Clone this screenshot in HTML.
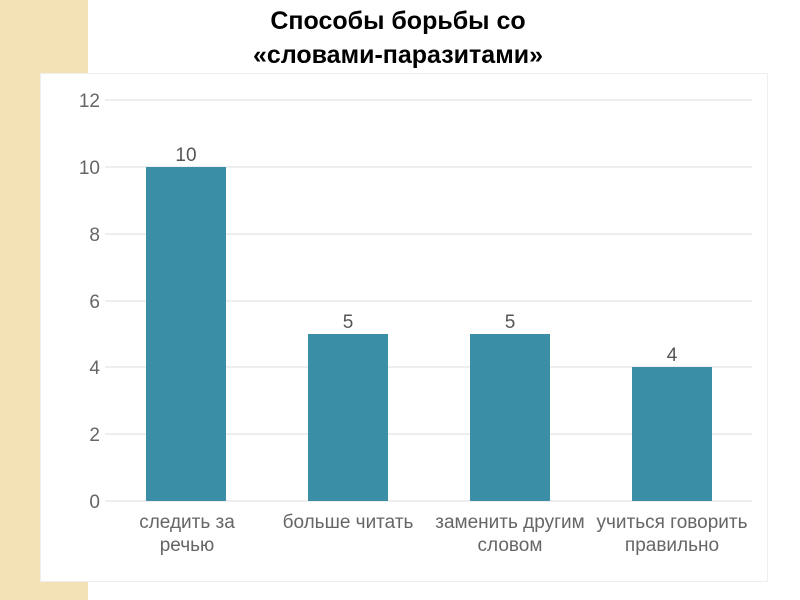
<!DOCTYPE html>
<html><head><meta charset="utf-8"><style>
body{margin:0;width:800px;height:600px;background:#fff;position:relative;overflow:hidden;font-family:"Liberation Sans",sans-serif}
.strip{position:absolute;left:0;top:0;width:88px;height:600px;background:#f3e2b6}
.box{position:absolute;left:40px;top:73px;width:726px;height:507px;background:#fff;border:1px solid #eee}
.t{position:absolute;left:88px;width:620px;text-align:center;top:4px;font-weight:bold;font-size:25px;line-height:34px;color:#000}
</style></head><body>
<div class="strip"></div>
<div class="box"></div>
<div class="t">Способы борьбы со<br>«словами-паразитами»</div>
<svg width="800" height="600" style="position:absolute;left:0;top:0" font-family="Liberation Sans, sans-serif">
<g stroke="#e4e4e4" stroke-width="1.3">
<line x1="105" x2="752" y1="100" y2="100"/><line x1="105" x2="752" y1="167" y2="167"/>
<line x1="105" x2="752" y1="234" y2="234"/><line x1="105" x2="752" y1="301" y2="301"/>
<line x1="105" x2="752" y1="367" y2="367"/><line x1="105" x2="752" y1="434" y2="434"/>
<line x1="105" x2="752" y1="501" y2="501"/></g>
<g fill="#666" font-size="19" text-anchor="end">
<text x="100" y="107">12</text><text x="100" y="174">10</text><text x="100" y="241">8</text>
<text x="100" y="308">6</text><text x="100" y="374">4</text><text x="100" y="441">2</text><text x="100" y="508">0</text></g>
<g fill="#3a8fa6">
<rect x="146" y="167" width="80" height="334"/><rect x="308" y="334" width="80" height="167"/>
<rect x="470" y="334" width="80" height="167"/><rect x="632" y="367" width="80" height="134"/></g>
<g fill="#555" font-size="19" text-anchor="middle">
<text x="186" y="161">10</text><text x="348" y="328">5</text><text x="510" y="328">5</text><text x="672" y="361">4</text></g>
<g fill="#666" font-size="19" text-anchor="middle">
<text x="187" y="528">следить за</text><text x="187" y="551">речью</text>
<text x="348" y="528">больше читать</text>
<text x="510" y="528">заменить другим</text><text x="510" y="551">словом</text>
<text x="672" y="528">учиться говорить</text><text x="672" y="551">правильно</text></g>
</svg>
</body></html>
